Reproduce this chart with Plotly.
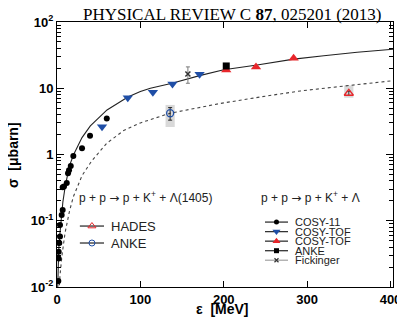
import plotly.graph_objects as go

# ---------------- data ----------------
cosy11_e = [1.6, 2.0, 2.0, 2.8, 3.6, 3.6, 5.6, 6.8, 6.8, 8.4, 11.7, 13.2, 14.4, 16.5, 19.6, 30.0, 39.6, 59.7]
cosy11_s = [0.0123, 0.027, 0.034, 0.046, 0.058, 0.086, 0.122, 0.145, 0.32, 0.33, 0.37, 0.52, 0.58, 0.67, 0.95, 1.24, 1.92, 3.5]

tof_blue_e = [54.0, 84.9, 115.0, 138.5, 171.0]
tof_blue_s = [2.63, 7.2, 8.7, 11.6, 16.2]

tof_red_e = [203.0, 238.7, 283.8]
tof_red_s = [18.8, 21.0, 28.3]

anke_e = [203.0]
anke_s = [21.7]

fick_e = [157.0]
fick_s = [16.4]
fick_err_up = [4.6]
fick_err_dn = [4.5]

# Lambda(1405)
hades_e = [350.0]
hades_s = [8.4]
hades_err = [0.6]
hades_sys_lo = [7.2]
hades_sys_hi = [11.0]

anke1405_e = [135.7]
anke1405_s = [4.2]
anke1405_err = [0.9]
anke1405_sys_lo = [2.6]
anke1405_sys_hi = [5.6]

# curves
solid_e = [0.3, 1, 2, 3, 5, 7, 10, 15, 20, 30, 40, 60, 85, 100, 112, 138, 171, 200, 240, 284, 320, 360, 403]
solid_s = [0.005, 0.016, 0.035, 0.055, 0.11, 0.19, 0.34, 0.68, 1.0, 1.8, 2.7, 4.7, 7.4, 8.9, 10.0, 11.9, 15.5, 19.0, 22.5, 27.5, 31.0, 35.0, 38.8]

dash_e = [2, 3.6, 6, 9.6, 15, 19.6, 30, 41.6, 59.7, 80, 100, 135.7, 172, 196, 250, 292, 350, 403]
dash_s = [0.007, 0.015, 0.03, 0.065, 0.14, 0.23, 0.48, 0.8, 1.48, 2.3, 3.0, 4.2, 5.15, 5.9, 7.6, 9.1, 11.0, 13.0]

y_tickvals = [0.01, 0.1, 1, 10, 100]
y_ticktext = ['10<sup>-2</sup>', '10<sup>-1</sup>', '1', '10', '10<sup>2</sup>']
y_minorvals = [m * d for d in (0.01, 0.1, 1, 10) for m in range(2, 10)]
x_tickvals = [0, 100, 200, 300, 400]

legend_left = ['HADES', 'ANKE']
legend_right = ['COSY-11', 'COSY-TOF', 'COSY-TOF', 'ANKE', 'Fickinger']

# ---------------- styles ----------------
BLUE = '#1f4ea6'
RED = '#e8262b'
GRAY = '#7a7a7a'
ARROW = '<span style="font-family:DejaVu Sans">\u2192</span>'

fig = go.Figure()

# systematic boxes
for e, lo, hi in [(anke1405_e[0], anke1405_sys_lo[0], anke1405_sys_hi[0]),
                  (hades_e[0], hades_sys_lo[0], hades_sys_hi[0])]:
    fig.add_shape(type='rect', xref='x', yref='y', x0=e - 5.5, x1=e + 5.5, y0=lo, y1=hi,
                  fillcolor='#d9d9d9', line=dict(width=0), layer='below')

fig.add_trace(go.Scatter(x=solid_e, y=solid_s, mode='lines',
                         line=dict(color='#222', width=1.1), showlegend=False))
fig.add_trace(go.Scatter(x=dash_e, y=dash_s, mode='lines',
                         line=dict(color='#444', width=1.1, dash='dot'), showlegend=False))

fig.add_trace(go.Scatter(x=cosy11_e, y=cosy11_s, mode='markers',
                         marker=dict(symbol='circle', size=6, color='black'), showlegend=False))
fig.add_trace(go.Scatter(x=tof_blue_e, y=tof_blue_s, mode='markers',
                         marker=dict(symbol='triangle-down', size=9, color=BLUE), showlegend=False))
fig.add_trace(go.Scatter(x=tof_red_e, y=tof_red_s, mode='markers',
                         marker=dict(symbol='triangle-up', size=9, color=RED), showlegend=False))
fig.add_trace(go.Scatter(x=anke_e, y=anke_s, mode='markers',
                         marker=dict(symbol='square', size=7, color='black'), showlegend=False))
fig.add_trace(go.Scatter(x=fick_e, y=fick_s, mode='markers',
                         marker=dict(symbol='x-thin', size=5, color='#333', line=dict(width=1.5, color='#333')),
                         error_y=dict(type='data', symmetric=False, array=fick_err_up, arrayminus=fick_err_dn,
                                      color=GRAY, thickness=1, width=2),
                         showlegend=False))
fig.add_trace(go.Scatter(x=hades_e, y=hades_s, mode='markers',
                         marker=dict(symbol='triangle-up-open', size=8, color=RED, line=dict(width=1.3)),
                         error_y=dict(type='data', array=hades_err, color='#333', thickness=1, width=2),
                         showlegend=False))
fig.add_trace(go.Scatter(x=anke1405_e, y=anke1405_s, mode='markers',
                         marker=dict(symbol='circle-open', size=7, color=BLUE, line=dict(width=1.3)),
                         error_y=dict(type='data', array=anke1405_err, color='#222', thickness=1, width=2),
                         showlegend=False))

# ---------------- manual legends on an overlay axis ----------------
left_markers = [dict(symbol='triangle-up-open', size=7, color=RED, line=dict(width=1)),
                dict(symbol='circle-open', size=6, color=BLUE, line=dict(width=1))]
right_markers = [dict(symbol='circle', size=5, color='black'),
                 dict(symbol='triangle-down', size=7, color=BLUE),
                 dict(symbol='triangle-up', size=7, color=RED),
                 dict(symbol='square', size=5, color='black'),
                 dict(symbol='x-thin', size=4, color='#333', line=dict(width=1.2, color='#333'))]
right_linecol = ['#333', '#333', '#333', '#333', '#aaa']


def add_legend(names, markers, linecols, x0, x1, y_top, dy, fsize):
    for i, (nm, mk, lc) in enumerate(zip(names, markers, linecols)):
        yy = y_top - i * dy
        fig.add_trace(go.Scatter(x=[x0, x1], y=[yy, yy], mode='lines', xaxis='x2', yaxis='y2',
                                 line=dict(color=lc, width=1.3), showlegend=False, hoverinfo='skip'))
        fig.add_trace(go.Scatter(x=[(x0 + x1) / 2], y=[yy], mode='markers', xaxis='x2', yaxis='y2',
                                 marker=mk, showlegend=False, hoverinfo='skip'))
        fig.add_annotation(x=x1 + 0.015, y=yy, xref='x2', yref='y2', text=nm, showarrow=False,
                           xanchor='left', yanchor='middle',
                           font=dict(family='Liberation Sans', size=fsize, color='#222'))


add_legend(legend_left, left_markers, ['#333', '#333'], 0.068, 0.14, 0.23, 0.064, 13)
add_legend(legend_right, right_markers, right_linecol, 0.619, 0.6875, 0.245, 0.036, 11)

fig.add_annotation(x=0.262, y=0.34, xref='x2', yref='y2', showarrow=False,
                   text='p + p ' + ARROW + ' p + K<sup>+</sup> + \u039b(1405)',
                   font=dict(family='Liberation Sans', size=12, color='#222'))
fig.add_annotation(x=0.755, y=0.34, xref='x2', yref='y2', showarrow=False,
                   text='p + p ' + ARROW + ' p + K<sup>+</sup> + \u039b',
                   font=dict(family='Liberation Sans', size=12, color='#222'))

# title
fig.add_annotation(xref='paper', yref='paper', x=(232 - 57) / 336, y=1 + (22 - 14.5) / 265,
                   xanchor='center', yanchor='middle', showarrow=False,
                   text='PHYSICAL REVIEW C <b>87</b>, 025201 (2013)',
                   font=dict(family='Liberation Serif', size=17, color='black'))
# axis titles
fig.add_annotation(xref='paper', yref='paper', x=(222 - 57) / 336, y=-(309 - 287) / 265,
                   xanchor='center', yanchor='middle', showarrow=False,
                   text='<b>\u03b5  [MeV]</b>',
                   font=dict(family='Liberation Sans', size=14, color='black'))
fig.add_annotation(xref='paper', yref='paper', x=-(57 - 13) / 336, y=(287 - 155) / 265,
                   xanchor='center', yanchor='middle', showarrow=False, textangle=-90,
                   text='<b>\u03c3  [\u03bcbarn]</b>',
                   font=dict(family='Liberation Sans', size=14, color='black'))

# the page puts the figure 8 px in from the top-left corner
fig.update_layout(
    width=397, height=314,
    margin=dict(l=49, r=12, t=14, b=35, autoexpand=False),
    paper_bgcolor='white', plot_bgcolor='white',
    showlegend=False,
    xaxis=dict(range=[0, 403], tickvals=x_tickvals, ticks='inside', ticklen=6, tickwidth=1,
               tickcolor='black', showline=True, linecolor='black', linewidth=1, mirror='ticks',
               showgrid=False, zeroline=False, ticklabelstandoff=0, automargin=False,
               tickfont=dict(family='Liberation Sans', size=13, color='black', weight='bold')),
    yaxis=dict(type='log', range=[-2, 2], tickvals=y_tickvals, ticktext=y_ticktext,
               ticks='inside', ticklen=7, tickwidth=1, tickcolor='black',
               showline=True, linecolor='black', linewidth=1, mirror='ticks',
               showgrid=False, zeroline=False, automargin=False,
               minor=dict(tickvals=y_minorvals, ticks='inside', ticklen=4, tickcolor='black', showgrid=False),
               tickfont=dict(family='Liberation Sans', size=13, color='black', weight='bold')),
    xaxis2=dict(overlaying='x', range=[0, 1], visible=False),
    yaxis2=dict(overlaying='y', range=[0, 1], visible=False),
)

fig.write_html('out.html')
